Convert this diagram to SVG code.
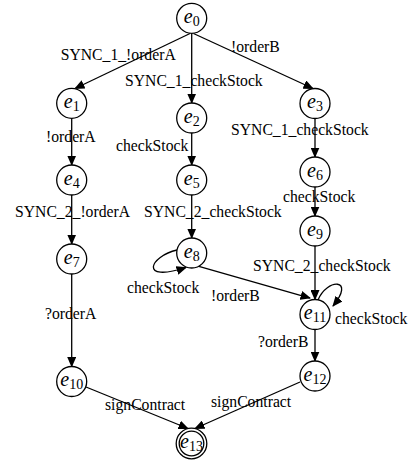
<svg xmlns="http://www.w3.org/2000/svg" width="408" height="461" viewBox="0 0 408 461">
  <style>
    .node circle { fill: #ffffff; stroke: #000000; stroke-width: 1.3; }
    .node text { font-family: "Liberation Serif", "Times New Roman", serif; fill: #000000; }
    .node .v { font-style: italic; font-size: 20px; }
    .node .s { font-size: 14px; }
    .edge { fill: none; stroke: #000000; stroke-width: 1.3; marker-end: url(#arrow); }
    .lbl { font-family: "Liberation Serif", "Times New Roman", serif; font-size: 15.7px; fill: #000000; }
  </style>
  <defs>
    <marker id="arrow" markerUnits="userSpaceOnUse" markerWidth="11" markerHeight="9" refX="9.5" refY="4.5" orient="auto">
      <path d="M0,0 L10.5,4.5 L0,9 z" fill="#000000"/>
    </marker>
  </defs>

  <!-- transitions -->
  <g id="edges">
    <path class="edge" d="M190,33.5 L75,88.5"/>
    <path class="edge" d="M191.7,33.3 L191.7,103"/>
    <path class="edge" d="M193.5,33.5 L313,88.5"/>
    <path class="edge" d="M71.7,118.3 L71.7,165"/>
    <path class="edge" d="M71.7,195 L71.7,244"/>
    <path class="edge" d="M71.7,274 L71.7,366.5"/>
    <path class="edge" d="M191.7,133 L191.7,165"/>
    <path class="edge" d="M191.7,195 L191.7,238"/>
    <path class="edge" d="M315,118.5 L315,157"/>
    <path class="edge" d="M315,187 L315,216"/>
    <path class="edge" d="M315,246 L315,299.5"/>
    <path class="edge" d="M315,329.5 L315,361"/>
    <!-- self loop on e8 -->
    <path class="edge" d="M177,250 C150,256 138,283 186,267.5"/>
    <!-- e8 to e11 -->
    <path class="edge" d="M198,266 L310,298"/>
    <!-- self loop on e11 -->
    <path class="edge" d="M318,300 C327,278 356,278 333,306"/>
    <path class="edge" d="M86,387 L188,428.5"/>
    <path class="edge" d="M300,382 L195,428.5"/>
  </g>

  <!-- transition labels -->
  <g id="labels">
    <text class="lbl" x="60.7" y="60">SYNC_1_!orderA</text>
    <text class="lbl" x="125" y="86">SYNC_1_checkStock</text>
    <text class="lbl" x="231" y="52">!orderB</text>
    <text class="lbl" x="46" y="142">!orderA</text>
    <text class="lbl" x="116" y="150.5">checkStock</text>
    <text class="lbl" x="231" y="135">SYNC_1_checkStock</text>
    <text class="lbl" x="15" y="217.3">SYNC_2_!orderA</text>
    <text class="lbl" x="144" y="217.3">SYNC_2_checkStock</text>
    <text class="lbl" x="283" y="202.3">checkStock</text>
    <text class="lbl" x="253" y="271">SYNC_2_checkStock</text>
    <text class="lbl" x="127" y="293.3">checkStock</text>
    <text class="lbl" x="211" y="300.7">!orderB</text>
    <text class="lbl" x="45" y="319">?orderA</text>
    <text class="lbl" x="335" y="324">checkStock</text>
    <text class="lbl" x="258" y="346.7">?orderB</text>
    <text class="lbl" x="105" y="410">signContract</text>
    <text class="lbl" x="211" y="407">signContract</text>
  </g>

  <!-- states -->
  <g id="e0" class="node"><circle cx="191.7" cy="18.3" r="15"/><text x="191.7" y="22.8" text-anchor="middle"><tspan class="v">e</tspan><tspan class="s" dy="3.2">0</tspan></text></g>
  <g id="e1" class="node"><circle cx="71.7" cy="103.3" r="15"/><text x="71.7" y="107.8" text-anchor="middle"><tspan class="v">e</tspan><tspan class="s" dy="3.2">1</tspan></text></g>
  <g id="e2" class="node"><circle cx="191.7" cy="118" r="15"/><text x="191.7" y="122.5" text-anchor="middle"><tspan class="v">e</tspan><tspan class="s" dy="3.2">2</tspan></text></g>
  <g id="e3" class="node"><circle cx="315" cy="103.5" r="15"/><text x="315" y="108" text-anchor="middle"><tspan class="v">e</tspan><tspan class="s" dy="3.2">3</tspan></text></g>
  <g id="e4" class="node"><circle cx="71.7" cy="180" r="15"/><text x="71.7" y="184.5" text-anchor="middle"><tspan class="v">e</tspan><tspan class="s" dy="3.2">4</tspan></text></g>
  <g id="e5" class="node"><circle cx="191.7" cy="180" r="15"/><text x="191.7" y="184.5" text-anchor="middle"><tspan class="v">e</tspan><tspan class="s" dy="3.2">5</tspan></text></g>
  <g id="e6" class="node"><circle cx="315" cy="172" r="15"/><text x="315" y="176.5" text-anchor="middle"><tspan class="v">e</tspan><tspan class="s" dy="3.2">6</tspan></text></g>
  <g id="e7" class="node"><circle cx="71.7" cy="259" r="15"/><text x="71.7" y="263.5" text-anchor="middle"><tspan class="v">e</tspan><tspan class="s" dy="3.2">7</tspan></text></g>
  <g id="e8" class="node"><circle cx="191.7" cy="253" r="15"/><text x="191.7" y="257.5" text-anchor="middle"><tspan class="v">e</tspan><tspan class="s" dy="3.2">8</tspan></text></g>
  <g id="e9" class="node"><circle cx="315" cy="231" r="15"/><text x="315" y="235.5" text-anchor="middle"><tspan class="v">e</tspan><tspan class="s" dy="3.2">9</tspan></text></g>
  <g id="e10" class="node"><circle cx="71.7" cy="381.5" r="15"/><text x="71.7" y="386" text-anchor="middle"><tspan class="v">e</tspan><tspan class="s" dy="3.2">10</tspan></text></g>
  <g id="e11" class="node"><circle cx="315" cy="314.5" r="15"/><text x="315" y="319" text-anchor="middle"><tspan class="v">e</tspan><tspan class="s" dy="3.2">11</tspan></text></g>
  <g id="e12" class="node"><circle cx="315" cy="376" r="15"/><text x="315" y="380.5" text-anchor="middle"><tspan class="v">e</tspan><tspan class="s" dy="3.2">12</tspan></text></g>
  <g id="e13" class="node"><circle cx="191.5" cy="443.5" r="15.3"/><circle cx="191.5" cy="443.5" r="12.3"/><text x="191.5" y="448" text-anchor="middle"><tspan class="v">e</tspan><tspan class="s" dy="3.2">13</tspan></text></g>
</svg>
